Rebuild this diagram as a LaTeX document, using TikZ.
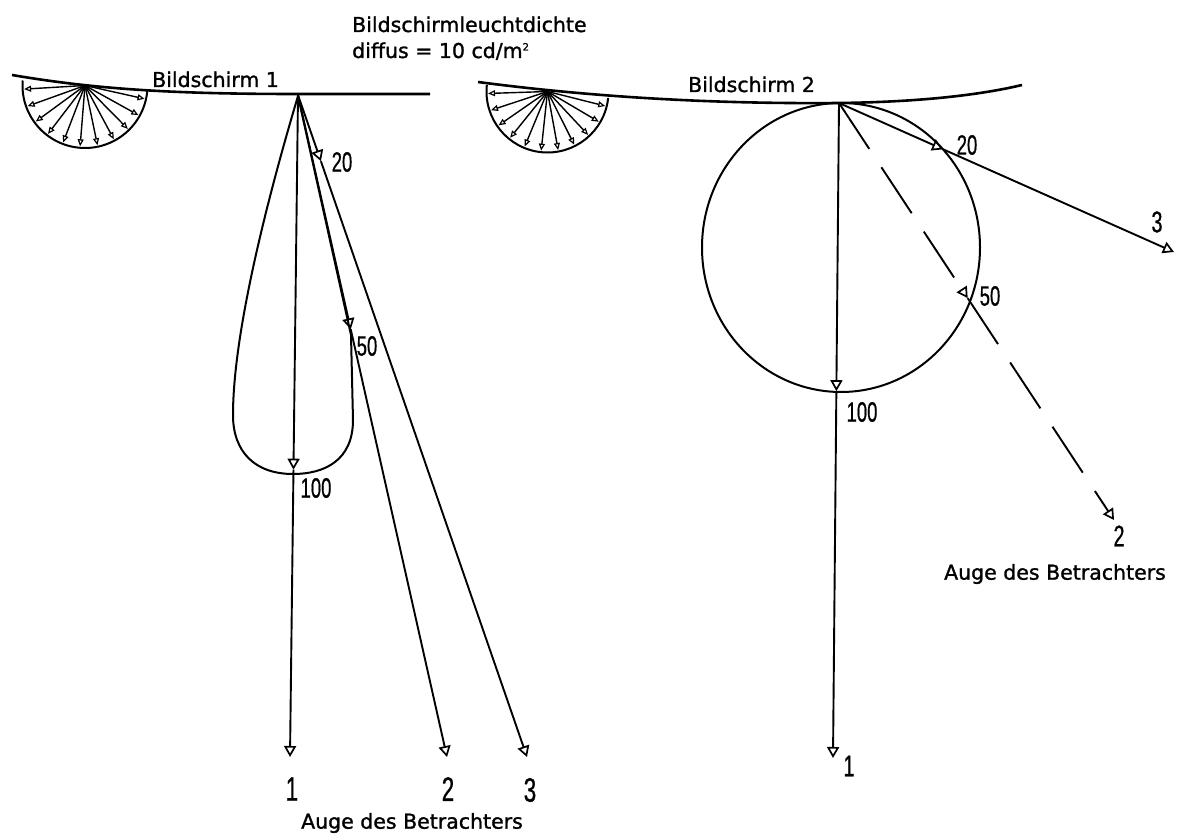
\documentclass[tikz,border=0pt]{standalone}
\usepackage{fontspec}
\setmainfont{DejaVu Sans}
\newfontfamily\labfont{DejaVu Sans}[FakeBold=1.3]
\newfontfamily\numfont{Liberation Sans}[FakeBold=0.8]
\usetikzlibrary{arrows.meta,calc}
\newcommand{\tnum}[2][28]{\scalebox{0.66}[1]{\fontsize{#1}{#1}\numfont #2}}
\tikzset{
  ray/.style={line width=1.9pt,-{Triangle[open,length=11pt,width=12pt,line width=1.7pt]}},
  fanray/.style={line width=1.4pt,-{Triangle[open,length=7pt,width=6pt,line width=1.2pt]}},
  screen/.style={line width=2.6pt},
  curve/.style={line width=2pt},
  lbl/.style={font=\labfont\fontsize{20.5}{24}\selectfont,inner sep=0pt},
  num/.style={inner sep=0pt},
  dashray/.style={ray,dash pattern=on 55pt off 22pt},
}
\begin{document}
\begin{tikzpicture}[x=1pt,y=-1pt]
\useasboundingbox (0,0) rectangle (1181,837);

% ---------- screen 1 ----------
\draw[screen] (12,75) .. controls (100,90) and (180,94) .. (298,94) -- (430,94);
\coordinate (C1) at (85,85.5);
\draw[curve] ($(C1)+(4.6:62.5)$) arc[start angle=4.6,end angle=184.6,radius=62.5];
\foreach \k in {0,...,10}{
  \draw[fanray] (C1) -- ($(C1)+({4.6+8+16.4*\k}:61)$);
}
\node[lbl,anchor=base west] (s1) at (152,87) {Bildschirm 1};

% lobe
\draw[curve] (298,96) -- (351,335) -- (353,420) .. controls (353,460) and (325,474) .. (293,474)
  .. controls (255,474) and (233,452) .. (233,415) .. controls (233,330) and (270,190) .. (298,96);

\coordinate (O1) at (298,95);
\coordinate (E1) at (290,757);
\coordinate (E2) at (447,757);
\coordinate (E3) at (527,757);
\coordinate (M100) at ($(O1)!0.566!(E1)$);
\coordinate (M50) at ($(O1)!0.354!(E2)$);
\coordinate (M20) at ($(O1)!0.10!(E3)$);
\draw[ray] (O1) -- (M100);
\draw[ray] (M100) -- (E1);
\draw[ray] (O1) -- (M50);
\draw[ray] (M50) -- (E2);
\draw[ray] (O1) -- (M20);
\draw[ray] (M20) -- (E3);

\node[num] (n20a) at (342,162) {\tnum{20}};
\node[num] (n50a) at (367,346) {\tnum{50}};
\node[num] (n100a) at (316,488) {\tnum{100}};
\node[num] (e1a) at (292,789) {\tnum[34]{1}};
\node[num] (e2a) at (448,789) {\tnum[34]{2}};
\node[num] (e3a) at (530,790) {\tnum[34]{3}};
\node[lbl] (eye1) at (412,823) {Auge des Betrachters};

% ---------- top text ----------
\node[lbl,anchor=base west] (t1) at (352,32) {Bildschirmleuchtdichte};
\node[lbl,anchor=base west] (t2) at (352,58) {diffus = 10 cd/m\textsuperscript{\fontsize{10}{10}\selectfont 2}};

% ---------- screen 2 ----------
\draw[screen] (478,82) .. controls (600,98) and (720,104) .. (839,103) .. controls (920,102) and (980,95) .. (1022,85);
\coordinate (C2) at (547.5,91.5);
\draw[curve] ($(C2)+(6.1:61)$) arc[start angle=6.1,end angle=186.1,radius=61];
\foreach \k in {0,...,10}{
  \draw[fanray] (C2) -- ($(C2)+({6.1+8+16.4*\k}:59.5)$);
}
\node[lbl,anchor=base west] (s2) at (688,92) {Bildschirm 2};

\draw[curve] (841,247.5) ellipse[x radius=139,y radius=144.5];

\coordinate (O2) at (839,103);
\coordinate (F1) at (833,758);
\coordinate (F2) at (1114,520);
\coordinate (F3) at (1174,252);
\coordinate (N100) at ($(O2)!0.44!(F1)$);
\coordinate (N50) at ($(O2)!0.468!(F2)$);
\coordinate (N20) at ($(O2)!0.311!(F3)$);
\draw[ray] (O2) -- (N100);
\draw[ray] (N100) -- (F1);
\draw[dashray] (O2) -- (N50);
\draw[dashray] (N50) -- (F2);
\draw[ray] (O2) -- (N20);
\draw[ray] (N20) -- (F3);

\node[num] (n20b) at (967,145) {\tnum{20}};
\node[num] (n50b) at (990,296) {\tnum{50}};
\node[num] (n100b) at (862,412) {\tnum{100}};
\node[num] (e1b) at (849,766) {\tnum[30]{1}};
\node[num] (e2b) at (1119,536) {\tnum[30]{2}};
\node[num] (e3b) at (1157,222) {\tnum[30]{3}};
\node[lbl] (eye2) at (1055,574) {Auge des Betrachters};
\end{tikzpicture}
\end{document}
